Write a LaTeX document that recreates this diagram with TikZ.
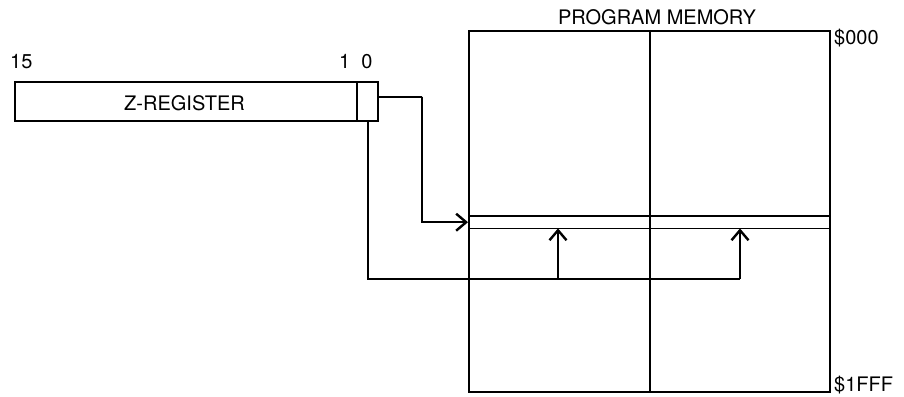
\documentclass[tikz,border=0pt]{standalone}
\usepackage{fontspec}
\setmainfont{TeX Gyre Heros}
\usetikzlibrary{arrows.meta,positioning}
\tikzset{
  regbox/.style={draw,line width=2.4pt,minimum height=39,inner sep=0},
  membox/.style={draw,line width=2.4pt,minimum width=361,minimum height=361,inner sep=0},
  thinline/.style={line width=1.2pt},
  busline/.style={line width=2.4pt},
  conn/.style={line width=2.4pt,-{Straight Barb[length=10pt,width=17pt]}},
  lbl/.style={inner sep=0,font=\fontsize{20}{24}\selectfont}
}
\begin{document}
\begin{tikzpicture}[x=1pt,y=-1pt]
  \useasboundingbox (0,0) rectangle (904,396);
  % z-register
  \node[regbox,minimum width=363,anchor=north west] (zreg) at (14,81) {};
  \node[minimum width=22,minimum height=39,inner sep=0,anchor=north east] (bit0) at (zreg.north east) {};
  \draw[thinline] (bit0.north west) -- (bit0.south west);
  \node[lbl,anchor=base] (zname) at (184.5,110) {Z-REGISTER};
  \node[lbl,anchor=base west] (msb) at (10,69) {15};
  \node[lbl,anchor=base west] (bitone) at (339,69) {1};
  \node[lbl,anchor=base] (bitzero) at (367,69) {0};
  % program memory
  \node[membox,anchor=north west] (mem) at (468,30) {};
  \draw[busline] (mem.north) -- (mem.south);
  \node[minimum width=361,minimum height=12,inner sep=0,anchor=north west] (slot) at (468,216) {};
  \draw[thinline] (slot.north west) -- (slot.north east);
  \draw[thinline] (slot.south west) -- (slot.south east);
  \node[lbl,anchor=base] (memtitle) at (657,25) {PROGRAM MEMORY};
  \node[lbl,anchor=base west] (addrtop) at (834,45) {\$000};
  \node[lbl,anchor=base west] (addrbot) at (834,391) {\$1FFF};
  % connectors
  \coordinate (tbend) at (422,97);
  \coordinate (tapA) at (558,279);
  \coordinate (tapB) at (740,279);
  \draw[conn] ([yshift=3.5pt]bit0.east) -| (tbend) |- (slot.west);
  \draw[busline] (bit0.south) |- (tapB);
  \draw[conn] (tapA) -- (tapA |- slot.south);
  \draw[conn] (tapB) -- (tapB |- slot.south);
\end{tikzpicture}
\end{document}
